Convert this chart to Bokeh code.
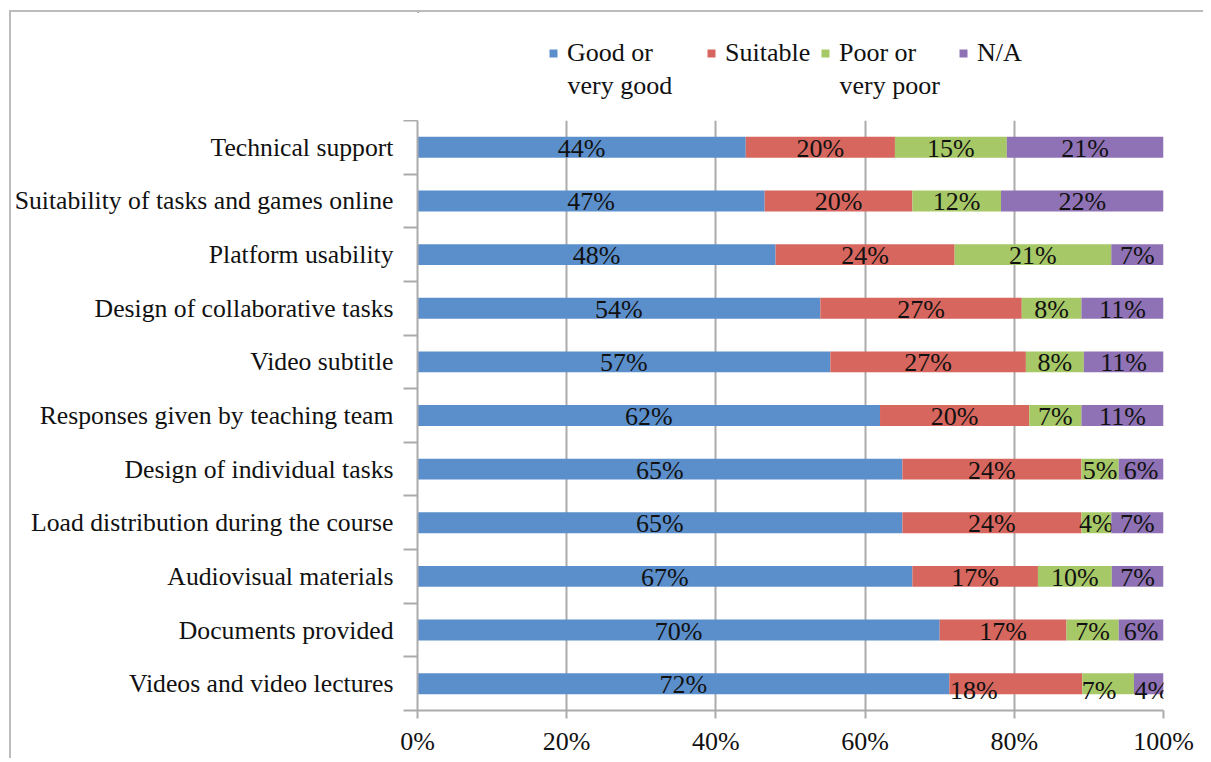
from bokeh.plotting import figure
from bokeh.layouts import column
from bokeh.models import (ColumnDataSource, FixedTicker, Legend, LegendItem, Range1d,
                          NumeralTickFormatter, Label)
from bokeh.core.properties import value
from bokeh.embed import file_html
from bokeh.resources import INLINE

# ---- data (top to bottom) ----
categories = [
    "Technical support",
    "Suitability of tasks and games online",
    "Platform usability",
    "Design of collaborative tasks",
    "Video subtitle",
    "Responses given by teaching team",
    "Design of individual tasks",
    "Load distribution during the course",
    "Audiovisual materials",
    "Documents provided",
    "Videos and video lectures",
]
good = [44, 47, 48, 54, 57, 62, 65, 65, 67, 70, 72]
suitable = [20, 20, 24, 27, 27, 20, 24, 24, 17, 17, 18]
poor = [15, 12, 21, 8, 8, 7, 5, 4, 10, 7, 7]
na = [21, 22, 7, 11, 11, 11, 6, 7, 7, 6, 4]
series_first_line = ["Good or", "Suitable", "Poor or", "N/A"]
series_second_line = ["very good", "", "very poor", ""]
x_ticks = [0, 0.2, 0.4, 0.6, 0.8, 1.0]

colors = ["#5B8FCB", "#D6665E", "#A7C867", "#8F72B5"]
FONT = "Liberation Serif"
FS = "26px"
TXT = "#111111"

n = len(categories)
ys = [n - i - 0.5 for i in range(n)]
series = [good, suitable, poor, na]
totals = [sum(s[i] for s in series) for i in range(n)]

# manual label nudges (pixels) for the bottom row, as in the original
nudges = {(10, 1): (-42, 6), (10, 2): (-9, 6), (10, 3): (3, 6)}

FW, FH = 746, 590
LEFT, RIGHT = 406, 40
LEG_H = 108

p = figure(frame_width=FW, frame_height=FH, output_backend="svg", toolbar_location=None,
           x_range=Range1d(0, 1), y_range=Range1d(0, n),
           min_border_left=LEFT, min_border_right=RIGHT, min_border_top=0, min_border_bottom=40)
p.outline_line_color = None
p.background_fill_color = "white"

sources = []
cum = [0.0] * n
for k, (vals, col) in enumerate(zip(series, colors)):
    left = list(cum)
    right = [cum[i] + vals[i] / totals[i] for i in range(n)]
    xoff = [nudges.get((i, k), (0, 0))[0] for i in range(n)]
    yoff = [1 + nudges.get((i, k), (0, 0))[1] for i in range(n)]
    src = ColumnDataSource(dict(
        y=ys, left=left, right=right,
        mid=[(l + r) / 2 for l, r in zip(left, right)],
        lab=[f"{v}%" for v in vals], xoff=xoff, yoff=yoff))
    sources.append(src)
    p.hbar(y="y", left="left", right="right", height=0.39, source=src,
           fill_color=col, line_color=None)
    p.text(x="mid", y="y", text="lab", source=src, x_offset="xoff", y_offset="yoff",
           text_align="center", text_baseline="middle", text_font=value(FONT),
           text_font_size=FS, text_color=TXT)
    cum = right

# grid
p.ygrid.visible = False
p.xgrid.ticker = FixedTicker(ticks=x_ticks)
p.xgrid.grid_line_color = "#ababab"
p.xgrid.grid_line_width = 2

# x axis
p.xaxis.ticker = FixedTicker(ticks=x_ticks)
p.xaxis.formatter = NumeralTickFormatter(format="0%")
p.xaxis.axis_line_color = "#ababab"
p.xaxis.axis_line_width = 2
p.xaxis.major_tick_line_color = "#ababab"
p.xaxis.major_tick_line_width = 2
p.xaxis.major_tick_out = 8
p.xaxis.major_tick_in = 0
p.xaxis.minor_tick_line_color = None
p.xaxis.major_label_text_font = FONT
p.xaxis.major_label_text_font_size = FS
p.xaxis.major_label_text_color = TXT
p.xaxis.major_label_standoff = 8

# y axis (category labels at centres, tick marks at boundaries)
p.yaxis.ticker = FixedTicker(ticks=ys, minor_ticks=list(range(n + 1)))
p.yaxis.major_label_overrides = {y: c for y, c in zip(ys, categories)}
p.yaxis.axis_line_color = "#ababab"
p.yaxis.axis_line_width = 2
p.yaxis.major_tick_line_color = None
p.yaxis.major_tick_out = 0
p.yaxis.major_tick_in = 0
p.yaxis.minor_tick_line_color = "#ababab"
p.yaxis.minor_tick_line_width = 2
p.yaxis.minor_tick_out = 14
p.yaxis.minor_tick_in = 0
p.yaxis.major_label_text_font = FONT
p.yaxis.major_label_text_font_size = "25.7px"
p.yaxis.major_label_text_color = TXT
p.yaxis.major_label_standoff = 10

# ---- legend strip above the chart (same frame geometry as the chart) ----
SHIFT = 500  # keeps the strip's view far away from the bar data
lg = figure(frame_width=FW, frame_height=LEG_H, output_backend="svg", toolbar_location=None,
            x_range=Range1d(0, FW), y_range=Range1d(-SHIFT - LEG_H, -SHIFT),
            x_axis_type=None, y_axis_type=None,
            min_border_left=LEFT, min_border_right=RIGHT, min_border_top=0, min_border_bottom=0)
lg.outline_line_color = None
lg.xgrid.visible = False
lg.ygrid.visible = False

legend_x = [131, 289, 403, 541]   # px of each legend square from the frame's left edge
for src, col, first, second, lx in zip(sources, colors, series_first_line,
                                       series_second_line, legend_x):
    # same bars, outside this strip's visible range; only used for the legend key
    r = lg.hbar(y="y", left="left", right="right", height=0.39, source=src,
                fill_color=col, line_color=None)
    leg = Legend(items=[LegendItem(label=first, renderers=[r])],
                 location=(lx, 52),
                 label_text_font=FONT, label_text_font_size=FS, label_text_color=TXT,
                 label_height=30, glyph_width=10, glyph_height=10, label_standoff=9,
                 border_line_color=None, background_fill_alpha=0, padding=0, margin=0)
    lg.add_layout(leg, "center")
    if second:
        lg.add_layout(Label(x=lx + 19, y=-SHIFT - 73, text=second,
                            text_font=FONT, text_font_size=FS, text_color=TXT,
                            text_align="left", text_baseline="middle"))

layout = column(lg, p, spacing=0, margin=(10, 0, 0, 9),
                styles={"border-top": "2px solid #bcbcbc", "border-left": "2px solid #bcbcbc"})

open("out.html", "w").write(file_html(layout, INLINE))
